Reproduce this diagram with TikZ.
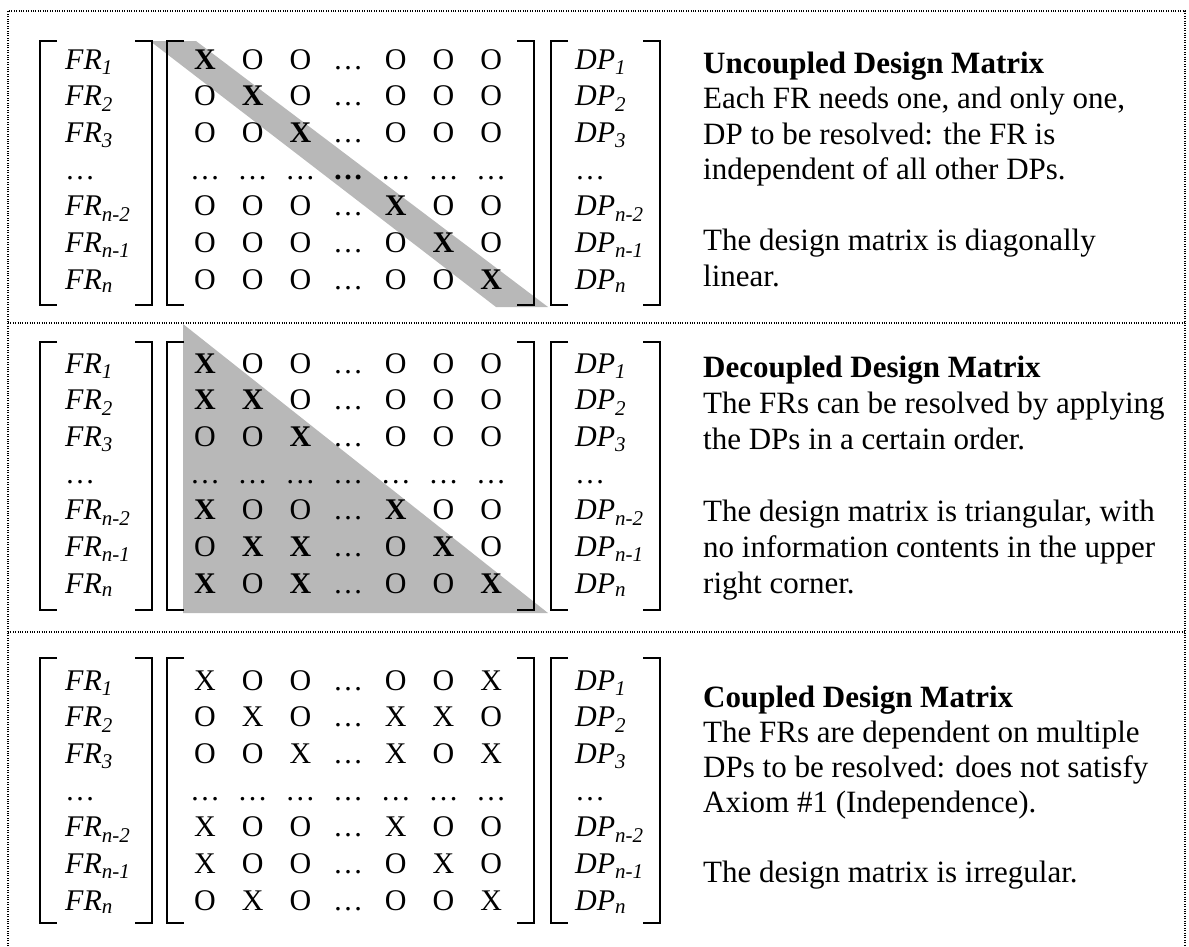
\documentclass[tikz,border=0pt]{standalone}
\usepackage{fontspec}
\setmainfont{Liberation Serif}
\newcommand\entryo{O}
\newcommand\entryx{X}
\newcommand\entryX{\textbf{X}}
\newcommand\entryd{…}
\newcommand\entryD{\textbf{…}}
\newcommand\drawsec[5]{%
  % #1 prefix, #2 bracket top, #3 bracket bottom, #4 first row centre, #5 rows
  \foreach \sub/\r in {1/1,2/2,3/3,n-2/5,n-1/6,n/7} {
    \node[lab] (#1fr\r) at (65,{#4+(\r-1)*36.7+10}) {\textit{FR\textsubscript{\sub}}};
    \node[lab] (#1dp\r) at (575,{#4+(\r-1)*36.7+10}) {\textit{DP\textsubscript{\sub}}};
  }
  \node[lab] (#1fr4) at (65,{#4+3*36.7+10}) {…};
  \node[lab] (#1dp4) at (575,{#4+3*36.7+10}) {…};
  \foreach \rowdata [count=\r] in {#5} {
    \foreach \e [count=\c] in \rowdata {
      \node[ent] (#1m\r-\c) at ({205+(\c-1)*47.7},{#4+(\r-1)*36.7+10}) {\csname entry\e\endcsname};
    }
  }
  \draw[brk] (57,#2) -- (40,#2) -- (40,#3) -- (57,#3);
  \draw[brk] (135,#2) -- (152,#2) -- (152,#3) -- (135,#3);
  \draw[brk] (184,#2) -- (167,#2) -- (167,#3) -- (184,#3);
  \draw[brk] (517,#2) -- (534,#2) -- (534,#3) -- (517,#3);
  \draw[brk] (568,#2) -- (551,#2) -- (551,#3) -- (568,#3);
  \draw[brk] (643,#2) -- (660,#2) -- (660,#3) -- (643,#3);
}
\begin{document}
\begin{tikzpicture}[x=1pt,y=-1pt,
  lab/.style={anchor=base west,inner sep=0pt,font=\fontsize{30}{36}\selectfont},
  ent/.style={anchor=base,inner sep=0pt,font=\fontsize{30}{36}\selectfont},
  txt/.style={anchor=base west,inner sep=0pt,font=\fontsize{31}{36}\selectfont},
  brk/.style={line width=2pt},
  dotline/.style={line width=1.4pt,dash pattern=on 1pt off 1.4pt},
  shadefill/.style={fill=black!28}]
\useasboundingbox (0,0) rectangle (1189,946);

% shading
\fill[shadefill] (150,41) -- (196,41) -- (548,307) -- (496,307) -- cycle;
\fill[shadefill] (183,324) -- (183,613) -- (548,613) -- cycle;

% dotted frame and dividers
\draw[dotline] (8,946) -- (8,11) -- (1185,11) -- (1185,946);
\draw[dotline] (8,323) -- (1185,323);
\draw[dotline] (8,632) -- (1185,632);

% matrices
\drawsec{a}{41}{305}{59}{{X,o,o,d,o,o,o},{o,X,o,d,o,o,o},{o,o,X,d,o,o,o},{d,d,d,D,d,d,d},{o,o,o,d,X,o,o},{o,o,o,d,o,X,o},{o,o,o,d,o,o,X}}
\drawsec{b}{342}{610}{363}{{X,o,o,d,o,o,o},{X,X,o,d,o,o,o},{o,o,X,d,o,o,o},{d,d,d,d,d,d,d},{X,o,o,d,X,o,o},{o,X,X,d,o,X,o},{X,o,X,d,o,o,X}}
\drawsec{c}{658}{923}{680}{{x,o,o,d,o,o,x},{o,x,o,d,x,x,o},{o,o,x,d,x,o,x},{d,d,d,d,d,d,d},{x,o,o,d,x,o,o},{x,o,o,d,o,x,o},{o,x,o,d,o,o,x}}

% texts, section 1
\node[txt] (a1) at (703,73) {\textbf{Uncoupled Design Matrix}};
\node[txt] (a2) at (703,108.5) {Each FR needs one, and only one,};
\node[txt] (a3) at (703,144) {DP to be resolved: the FR is};
\node[txt] (a4) at (703,179.5) {independent of all other DPs.};
\node[txt] (a5) at (703,250.5) {The design matrix is diagonally};
\node[txt] (a6) at (703,286) {linear.};

% texts, section 2
\node[txt] (b1) at (703,377) {\textbf{Decoupled Design Matrix}};
\node[txt] (b2) at (703,413) {The FRs can be resolved by applying};
\node[txt] (b3) at (703,449) {the DPs in a certain order.};
\node[txt] (b4) at (703,521) {The design matrix is triangular, with};
\node[txt] (b5) at (703,557) {no information contents in the upper};
\node[txt] (b6) at (703,593) {right corner.};

% texts, section 3
\node[txt] (c1) at (703,707) {\textbf{Coupled Design Matrix}};
\node[txt] (c2) at (703,742) {The FRs are dependent on multiple};
\node[txt] (c3) at (703,777) {DPs to be resolved: does not satisfy};
\node[txt] (c4) at (703,812) {Axiom \#1 (Independence).};
\node[txt] (c5) at (703,882) {The design matrix is irregular.};
\end{tikzpicture}
\end{document}
